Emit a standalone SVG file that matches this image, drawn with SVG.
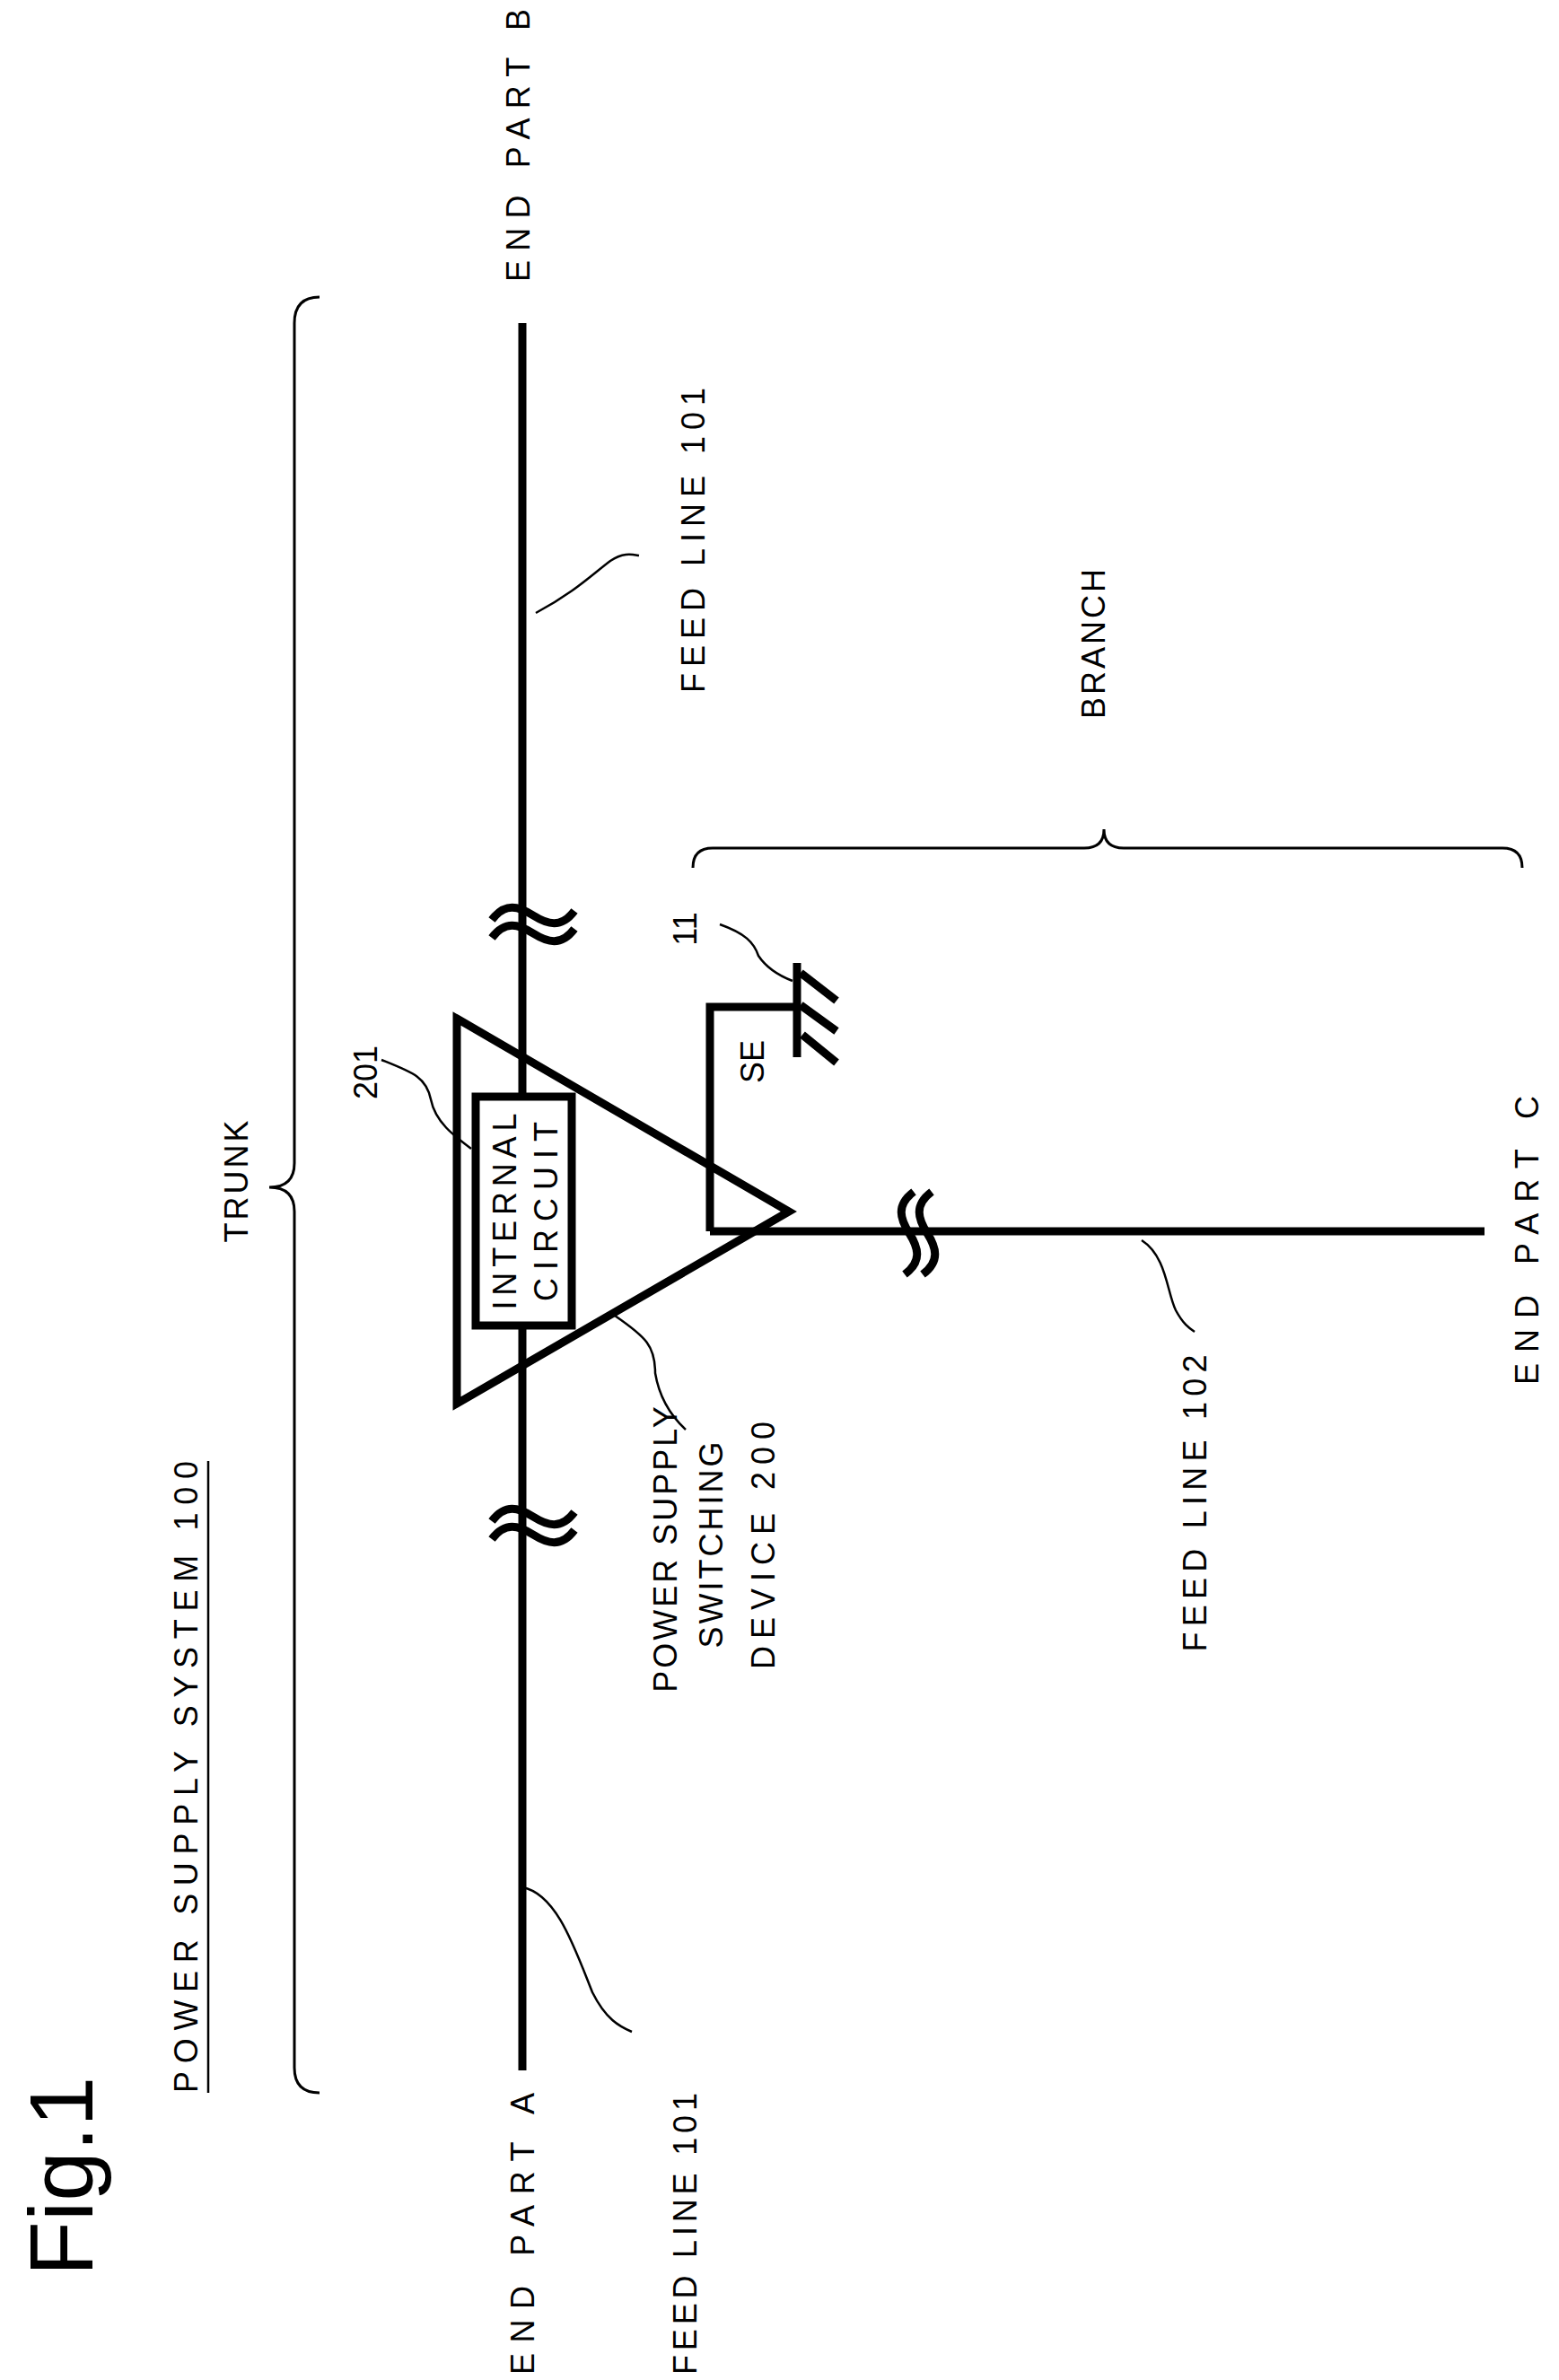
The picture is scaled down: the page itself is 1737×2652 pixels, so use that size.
<svg xmlns="http://www.w3.org/2000/svg" width="1737" height="2652" viewBox="0 0 1737 2652">
<style>
text{font-family:"Liberation Sans",Arial,sans-serif;font-size:36px;fill:#000;text-anchor:middle;dominant-baseline:central}
.thick{stroke:#000;stroke-width:9;fill:none}
.thin{stroke:#000;stroke-width:2.5;fill:none}
.brace{stroke:#000;stroke-width:3;fill:none}
</style>
<rect width="1737" height="2652" fill="#fff"/>
<g id="connectors">
<line class="thick" x1="582" y1="360" x2="582" y2="2307"/>
<path class="thick" d="M791,1372 L1654,1372"/>
<path class="thin" d="M597,683 C640,660 660,640 680,625 C695,615 705,618 712,619"/>
<path class="thin" d="M582,2103 C620,2110 640,2170 660,2220 C675,2250 690,2258 704,2264"/>
<path class="thin" d="M1272,1382 C1300,1400 1300,1440 1310,1460 C1318,1475 1325,1480 1331,1484"/>
</g>
<g id="breaks">
<path class="thick" d="M548,1025 c15,-20 30,-15 46,-5 c16,10 31,15 46,-5"/>
<path class="thick" d="M548,1045 c15,-20 30,-15 46,-5 c16,10 31,15 46,-5"/>
<path class="thick" d="M548,1695 c15,-20 30,-15 46,-5 c16,10 31,15 46,-5"/>
<path class="thick" d="M548,1715 c15,-20 30,-15 46,-5 c16,10 31,15 46,-5"/>
<path class="thick" d="M1018,1328 c-20,15 -15,30 -5,46 c10,16 15,31 -5,46"/>
<path class="thick" d="M1038,1328 c-20,15 -15,30 -5,46 c10,16 15,31 -5,46"/>
</g>
<g id="device200">
<polygon class="thick" points="509,1135 879,1350 509,1564"/>
<path class="thin" d="M685,1466 C720,1490 730,1500 730,1530 C735,1560 750,1580 764,1593"/>
<text transform="translate(741,1725) rotate(-90)" letter-spacing="3">POWER SUPPLY</text>
<text transform="translate(792,1720) rotate(-90)" letter-spacing="3">SWITCHING</text>
<text transform="translate(850,1722) rotate(-90)" textLength="276" lengthAdjust="spacing">DEVICE 200</text>
</g>
<g id="circuit201">
<rect class="thick" x="530" y="1222" width="107" height="255" style="fill:#fff"/>
<text transform="translate(562,1350) rotate(-90)" textLength="219" lengthAdjust="spacing">INTERNAL</text>
<text transform="translate(608,1350) rotate(-90)" textLength="200" lengthAdjust="spacing">CIRCUIT</text>
<path class="thin" d="M425,1181 C460,1195 475,1200 480,1225 C485,1250 505,1265 525,1280"/>
<text transform="translate(407,1195) rotate(-90)">201</text>
</g>
<g id="se11">
<path class="thick" d="M888,1122 L791,1122 L791,1372"/>
<text transform="translate(838,1183) rotate(-90)">SE</text>
<line class="thick" x1="888" y1="1073" x2="888" y2="1178"/>
<line class="thick" x1="892" y1="1084" x2="932" y2="1115"/>
<line class="thick" x1="892" y1="1120" x2="932" y2="1149"/>
<line class="thick" x1="894" y1="1153" x2="932" y2="1184"/>
<path class="thin" d="M802,1030 C830,1040 840,1050 845,1065 C855,1080 870,1088 883,1093"/>
<text transform="translate(763,1035) rotate(-90)">11</text>
</g>
<g id="labels">
<text transform="translate(577,162) rotate(-90)" textLength="304" lengthAdjust="spacing">END PART B</text>
<text transform="translate(582,2489) rotate(-90)" textLength="314" lengthAdjust="spacing">END PART A</text>
<text transform="translate(1701,1382) rotate(-90)" textLength="322" lengthAdjust="spacing">END PART C</text>
<text transform="translate(772,602) rotate(-90)" textLength="340" lengthAdjust="spacing">FEED LINE 101</text>
<text transform="translate(763,2489) rotate(-90)" textLength="314" lengthAdjust="spacing">FEED LINE 101</text>
<text transform="translate(1331,1675) rotate(-90)" textLength="331" lengthAdjust="spacing">FEED LINE 102</text>
<text transform="translate(1218,716) rotate(-90)" letter-spacing="3">BRANCH</text>
<text transform="translate(263,1315) rotate(-90)" letter-spacing="3">TRUNK</text>
<text transform="translate(207,1980) rotate(-90)" textLength="704" lengthAdjust="spacing">POWER SUPPLY SYSTEM 100</text>
<line class="thin" x1="232" y1="1628" x2="232" y2="2332"/>
<text transform="translate(68,2425) rotate(-90)" style="font-size:100px">Fig.1</text>
</g>
<g id="braces">
<path class="brace" d="M356,331 Q328,331 328,360 L328,1296 Q328,1323 300,1323 Q328,1323 328,1350 L328,2304 Q328,2332 356,2332"/>
<path class="brace" d="M772,967 Q772,945 794,945 L1208,945 Q1230,945 1230,924 Q1230,945 1252,945 L1674,945 Q1696,945 1696,967"/>
</g>
</svg>
